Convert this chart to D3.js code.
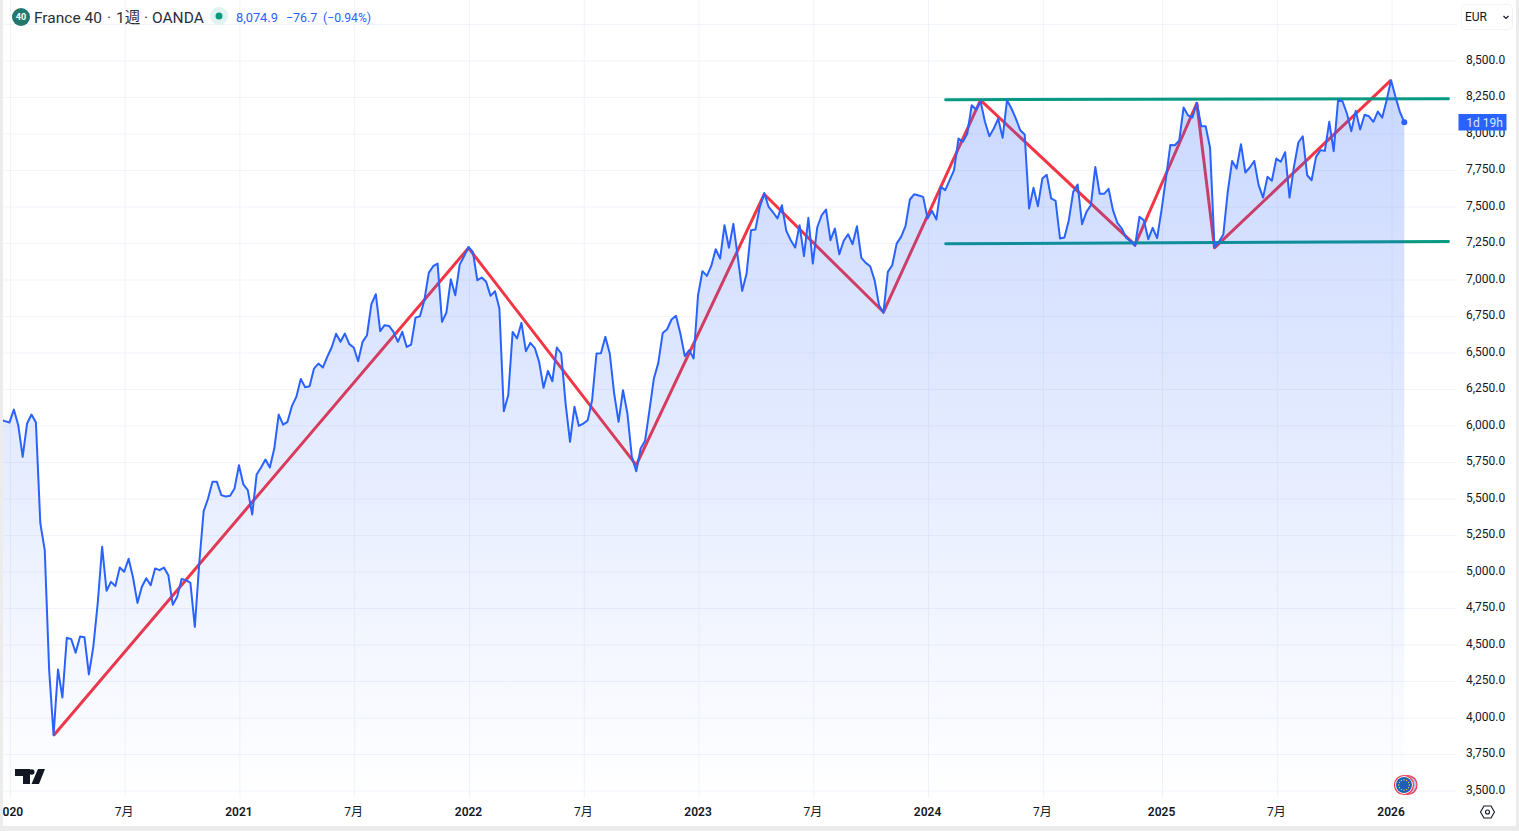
<!DOCTYPE html>
<html>
<head>
<meta charset="utf-8">
<script src="https://cdn.jsdelivr.net/npm/d3@7"></script>
<style>
  html, body { margin: 0; padding: 0; background: #fff; overflow: hidden; }
  svg { display: block; }
  text { font-family: Roboto, "Noto Sans CJK JP", sans-serif; }
</style>
</head>
<body>
<div id="chart"></div>
<script>
// weekly closes
const closes = [
  6035, 6028, 6018, 6107, 6000, 5783, 6012, 6073, 6018, 5327, 5144, 4322, 3877, 4327, 4135, 4544, 4535, 4441, 4553, 4548,
  4293, 4482, 4779, 5167, 4866, 4927, 4898, 5025, 4996, 5085, 4957, 4783, 4893, 4952, 4904, 5019, 5007, 5025, 4973, 4770,
  4825, 4946, 4939, 4920, 4619, 5053, 5411, 5498, 5612, 5612, 5521, 5512, 5516, 5567, 5726, 5594, 5555, 5388,
  5662, 5710, 5765, 5710, 5840, 6073, 6004, 6023, 6132, 6194, 6317, 6260, 6267, 6388, 6422, 6395, 6468, 6532, 6626, 6571,
  6628, 6555, 6532, 6438, 6571, 6616, 6829, 6897, 6644, 6685, 6680, 6639, 6571, 6639, 6536, 6552, 6737, 6746, 6856, 7043,
  7089, 7107, 6708, 6772, 7000, 6890, 7100, 7157, 7221, 7185, 6993, 7011, 6982, 6886,
  6918, 6799, 6096, 6205, 6639, 6594, 6701, 6507, 6564, 6530, 6434, 6256, 6372, 6301, 6532, 6491, 6148, 5886, 6126, 5995,
  6011, 6034, 6171, 6491, 6493, 6605, 6491, 6217, 6023, 6240, 6080, 5783, 5685, 5840, 5893, 6103, 6320, 6427, 6632, 6657,
  6724, 6749, 6628, 6473, 6514, 6457, 6890, 7055, 7023, 7091, 7205, 7141, 7370, 7215, 7379, 7153, 6920, 7039, 7336, 7340,
  7495, 7590, 7495,
  7457, 7416, 7507, 7331, 7267, 7217, 7370, 7158, 7420, 7107, 7354, 7438, 7477, 7267, 7347, 7171, 7263, 7308, 7240, 7363,
  7146, 7112, 7089, 6993, 6822, 6770, 7050, 7096, 7244, 7290, 7363, 7546, 7582, 7573, 7564, 7416, 7468, 7409, 7632, 7610,
  7678, 7747, 7963, 7941, 7998, 8192, 8162, 8219, 8078, 7979, 8032, 8100, 7968, 8226, 8169, 8100, 8020, 7991, 7484, 7626,
  7500, 7690, 7715, 7553,
  7537, 7279, 7285, 7404, 7598, 7648, 7377, 7461, 7507, 7769, 7585, 7585, 7619, 7473, 7386, 7347, 7283, 7263, 7228, 7427,
  7404, 7274, 7352, 7281, 7473, 7690, 7920, 7918, 7948, 8176, 8123, 8107, 8208, 8048, 8048, 7900, 7221, 7256, 7306, 7598,
  7810,
  7758, 7925, 7731, 7765, 7810, 7644, 7559, 7701, 7674, 7826, 7804, 7870, 7559, 7769, 7936, 7979, 7712, 7678, 7838, 7884,
  7879, 8078, 7877, 8226, 8219, 8135, 8014, 8153, 8025, 8126, 8116, 8078, 8148, 8107, 8226, 8363, 8249, 8146, 8074.9
];

const priceTicks = d3.range(3500, 8501, 250);
const gridPrices = d3.range(3500, 8751, 250);
const timeTicks = [2, 28, 54, 80, 106, 132, 158, 184, 210, 236, 263, 289, 315];
const timeLabels = ["2020", "7月", "2021", "7月", "2022", "7月", "2023", "7月", "2024", "7月", "2025", "7月", "2026"];

// drawn pattern: zigzag pivots and the two range lines (week index, price)
const zigWeeks = [12, 106, 144, 173, 200, 222, 257, 271, 275, 315];
const zigPrices = [3875, 7214, 5727, 7582, 6775, 8226, 7235, 8205, 7215, 8363];
const rangeWeeks = [214.1, 328];
const rangeTop = [8229, 8236];
const rangeBottom = [7243, 7258];

const width = 1519, height = 831;
const paneLeft = 3, paneRight = 1457, paneBottom = 798;

const x = d3.scaleLinear().domain([0, closes.length - 1]).range([0.6, 1404.3]);
const y = d3.scaleLinear().domain([3500, 8500]).range([790.2, 60.2]);

const svg = d3.select("#chart").append("svg")
  .attr("width", width).attr("height", height)
  .attr("viewBox", [0, 0, width, height]);

const defs = svg.append("defs");
defs.append("clipPath").attr("id", "pane").append("rect")
  .attr("x", paneLeft).attr("y", 0)
  .attr("width", paneRight - paneLeft).attr("height", paneBottom);

const grad = defs.append("linearGradient").attr("id", "areaFill")
  .attr("gradientUnits", "userSpaceOnUse")
  .attr("x1", 0).attr("x2", 0).attr("y1", y(d3.max(closes))).attr("y2", paneBottom);
grad.append("stop").attr("offset", 0).attr("stop-color", "#2962ff").attr("stop-opacity", 0.25);
grad.append("stop").attr("offset", 1).attr("stop-color", "#2962ff").attr("stop-opacity", 0);

// grid lines
const gridColor = "#f0f3fa";
const gridY = svg.append("g")
  .attr("transform", `translate(${paneLeft},0.3)`)
  .call(d3.axisRight(y).tickValues(gridPrices).tickSize(paneRight - paneLeft).tickFormat(""));
gridY.select(".domain").remove();
gridY.selectAll("line").attr("stroke", gridColor);

const gridX = svg.append("g")
  .attr("transform", `translate(0.5,${paneBottom})`)
  .call(d3.axisTop(x).tickValues(timeTicks).tickSize(paneBottom).tickFormat(""));
gridX.select(".domain").remove();
gridX.selectAll("line").attr("stroke", gridColor);

const pane = svg.append("g").attr("clip-path", "url(#pane)");

// drawings sit under the series, the area tints them
const toPts = (ws, ps) => ws.map((w, i) => [x(w), y(ps[i])]);
const lineGen = d3.line();

pane.append("path")
  .attr("d", lineGen(toPts(zigWeeks, zigPrices)))
  .attr("fill", "none").attr("stroke", "#f23645").attr("stroke-width", 3)
  .attr("stroke-linejoin", "round");

[rangeTop, rangeBottom].forEach(ps => {
  pane.append("path")
    .attr("d", lineGen(toPts(rangeWeeks, ps)))
    .attr("fill", "none").attr("stroke", "#089981").attr("stroke-width", 3)
    .attr("stroke-linecap", "round");
});

const area = d3.area()
  .x((d, i) => x(i))
  .y0(paneBottom)
  .y1(d => y(d));
pane.append("path").datum(closes).attr("d", area).attr("fill", "url(#areaFill)");

const line = d3.line().x((d, i) => x(i)).y(d => y(d));
pane.append("path").datum(closes).attr("d", line)
  .attr("fill", "none").attr("stroke", "#2962ff").attr("stroke-width", 2)
  .attr("stroke-linejoin", "round");

pane.append("circle")
  .attr("cx", x(closes.length - 1)).attr("cy", y(closes[closes.length - 1]))
  .attr("r", 3).attr("fill", "#2962ff");

// price axis
const yAxis = svg.append("g")
  .attr("transform", "translate(1466,-1)")
  .call(d3.axisRight(y).tickValues(priceTicks).tickSize(0).tickPadding(0).tickFormat(d3.format(",.1f")));
yAxis.select(".domain").remove();
yAxis.selectAll("text").attr("font-size", 12).attr("fill", "#131722").attr("font-family", "Roboto");

// countdown label on the price axis
svg.append("rect").attr("x", 1458.5).attr("y", 114).attr("width", 48).attr("height", 16.5).attr("fill", "#2962ff");
svg.append("text").attr("x", 1484.5).attr("y", 126.5).attr("text-anchor", "middle")
  .attr("font-size", 12).attr("fill", "#dfe7ff").text("1d 19h");

// time axis
const xAxis = svg.append("g")
  .attr("transform", "translate(-0.5,802)")
  .call(d3.axisBottom(x).tickValues(timeTicks).tickSize(0).tickPadding(5)
    .tickFormat((d, i) => timeLabels[i]));
xAxis.select(".domain").remove();
xAxis.selectAll("text")
  .attr("font-size", 12)
  .attr("fill", "#131722")
  .attr("font-weight", (d, i) => timeLabels[i].length > 2 ? 600 : 400)
  .attr("font-family", 'Roboto, "Noto Sans CJK JP"');

// header
svg.append("circle").attr("cx", 21).attr("cy", 17).attr("r", 9).attr("fill", "#22786c");
svg.append("text").attr("x", 21).attr("y", 20).attr("text-anchor", "middle")
  .attr("font-size", 9).attr("font-weight", 700).attr("fill", "#fff").text("40");
const titleBits = [["France 40", 34], ["·", 107], ["1週", 116], ["·", 144], ["OANDA", 152]];
titleBits.forEach(([t, tx]) => {
  svg.append("text").attr("x", tx).attr("y", 23).attr("font-size", 15.5).attr("fill", "#2a2e39").text(t);
});
svg.append("circle").attr("cx", 219).attr("cy", 16).attr("r", 9).attr("fill", "#e0f3f0");
svg.append("circle").attr("cx", 219).attr("cy", 16).attr("r", 3.5).attr("fill", "#089981");
svg.append("text").attr("x", 236).attr("y", 22).attr("font-size", 12.8).attr("fill", "#2962ff").text("8,074.9");
svg.append("text").attr("x", 286).attr("y", 22).attr("font-size", 12.4).attr("fill", "#2962ff").text("−76.7");
svg.append("text").attr("x", 323).attr("y", 22).attr("font-size", 12.2).attr("fill", "#2962ff").text("(−0.94%)");

// currency button
svg.append("rect").attr("x", 1461.5).attr("y", 4.5).attr("width", 51).attr("height", 25).attr("rx", 4)
  .attr("fill", "#fff").attr("stroke", "#f0f3fa");
svg.append("text").attr("x", 1465).attr("y", 21).attr("font-size", 12).attr("fill", "#131722").text("EUR");
svg.append("path").attr("d", "M1503.5 16l2.5 2.5 2.5-2.5").attr("fill", "none").attr("stroke", "#131722").attr("stroke-width", 1.2);

// TradingView mark
svg.append("path").attr("d", "M15 769h15v15h-7v-8h-8z").attr("fill", "#131722");
svg.append("circle").attr("cx", 31.7).attr("cy", 772).attr("r", 2.8).attr("fill", "#131722");
svg.append("path").attr("d", "M38 769h7l-6 15h-7.5z").attr("fill", "#131722");

// EU flag event marker
svg.append("circle").attr("cx", 1407.5).attr("cy", 785).attr("r", 9.5).attr("fill", "#b9c9f7").attr("stroke", "#f23645").attr("stroke-width", 1.2);
svg.append("circle").attr("cx", 1404).attr("cy", 785).attr("r", 9.5).attr("fill", "#fff").attr("stroke", "#f23645").attr("stroke-width", 1.2);
svg.append("circle").attr("cx", 1404).attr("cy", 785).attr("r", 8).attr("fill", "#1c5fb4");
d3.range(12).forEach(i => {
  const a = i / 12 * 2 * Math.PI;
  svg.append("circle").attr("cx", 1404 + 5.3 * Math.cos(a)).attr("cy", 785 + 5.3 * Math.sin(a))
    .attr("r", 0.7).attr("fill", "#f5d33c");
});

// settings icon
svg.append("path").attr("d", "M1480.5 812l3.5-6h7l3.5 6-3.5 6h-7z").attr("fill", "none").attr("stroke", "#131722").attr("stroke-width", 1.1);
svg.append("circle").attr("cx", 1487.5).attr("cy", 812).attr("r", 2).attr("fill", "none").attr("stroke", "#131722").attr("stroke-width", 1.1);

// window edges
svg.append("rect").attr("x", 0).attr("y", 0).attr("width", 3).attr("height", height).attr("fill", "#ececec");
svg.append("rect").attr("x", 1516).attr("y", 0).attr("width", 3).attr("height", height).attr("fill", "#ececec");
svg.append("rect").attr("x", 0).attr("y", 826).attr("width", width).attr("height", 5).attr("fill", "#ececec");
</script>
</body>
</html>
